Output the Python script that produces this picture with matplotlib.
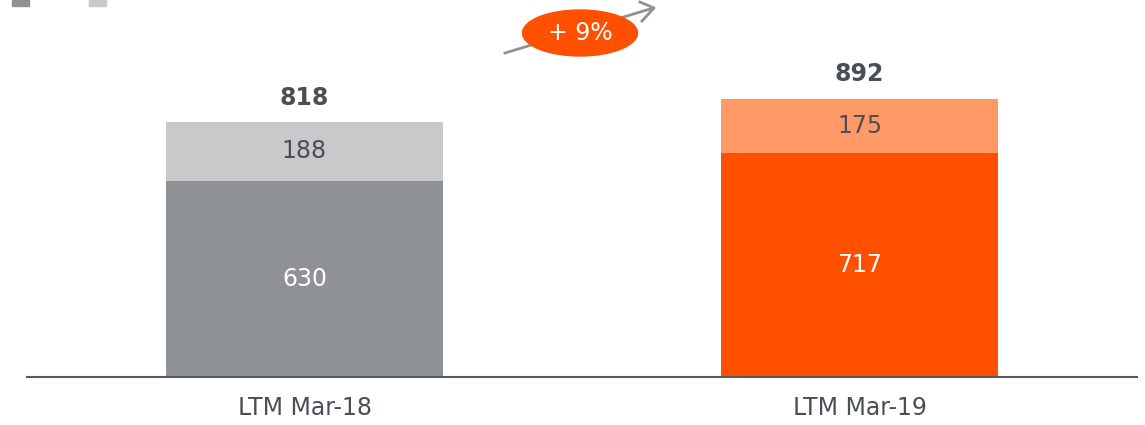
import matplotlib.pyplot as plt
from matplotlib.patches import Ellipse, Rectangle

plt.rcParams['font.family'] = ['DejaVu Sans']

categories = ["LTM Mar-18", "LTM Mar-19"]
base_values = [630, 717]
top_values = [188, 175]
totals = [818, 892]
growth_label = "+ 9%"

base_colors = ["#8f9294", "#ff5000"]
top_colors = ["#c8c9cb", "#ff9966"]
text_dark = "#4a4f55"
fs = 17

fig = plt.figure(figsize=(11.45, 4.25), dpi=100)
W, H = 1145, 425
ax = fig.add_axes([27 / W, (H - 377) / H, 1110 / W, 377 / H])

x = list(range(len(categories)))
ax.bar(x, base_values, width=0.5, color=base_colors, zorder=2)
ax.bar(x, top_values, width=0.5, bottom=base_values, color=top_colors, zorder=2)

for i in x:
    ax.text(i, base_values[i] / 2, str(base_values[i]), ha="center", va="center",
            color="white", fontsize=fs)
    ax.text(i, base_values[i] + top_values[i] / 2, str(top_values[i]), ha="center",
            va="center", color=text_dark, fontsize=fs)
    ax.text(i, totals[i] + 40, str(totals[i]), ha="center", va="bottom",
            color=text_dark, fontsize=fs, fontweight="bold")

ax.set_xlim(-0.5, 1.5)
ax.set_ylim(0, 377 / (255 / 818))
ax.set_xticks(x)
ax.set_xticklabels(categories, fontsize=fs, color=text_dark)
ax.tick_params(axis="x", length=0, pad=14)
ax.set_yticks([])
for s in ["top", "right", "left"]:
    ax.spines[s].set_visible(False)
ax.spines["bottom"].set_color("#555a60")
ax.spines["bottom"].set_linewidth(1.5)


# growth arrow with bubble (figure pixel coords)
def fx(px):
    return px / W


def fy(py):
    return (H - py) / H


fig.add_artist(plt.Line2D([fx(505), fx(650)], [fy(53), fy(9)], color="#8f9294", lw=2, zorder=1))
fig.add_artist(plt.Line2D([fx(640), fx(654), fx(642)], [fy(2), fy(8), fy(21)],
                          color="#8f9294", lw=2, zorder=1))
fig.add_artist(Ellipse((fx(580), fy(33)), 115 / W, 46 / H, color="#ff5000", zorder=2))
fig.text(fx(580), fy(33), growth_label, ha="center", va="center", color="white",
         fontsize=fs, zorder=3)

# legend swatches cut at the top edge
fig.add_artist(Rectangle((fx(12), fy(6)), 17 / W, 6 / H, color="#8f9294"))
fig.add_artist(Rectangle((fx(89), fy(6)), 17 / W, 6 / H, color="#c8c9cb"))

fig.savefig("out.png", dpi=100)
